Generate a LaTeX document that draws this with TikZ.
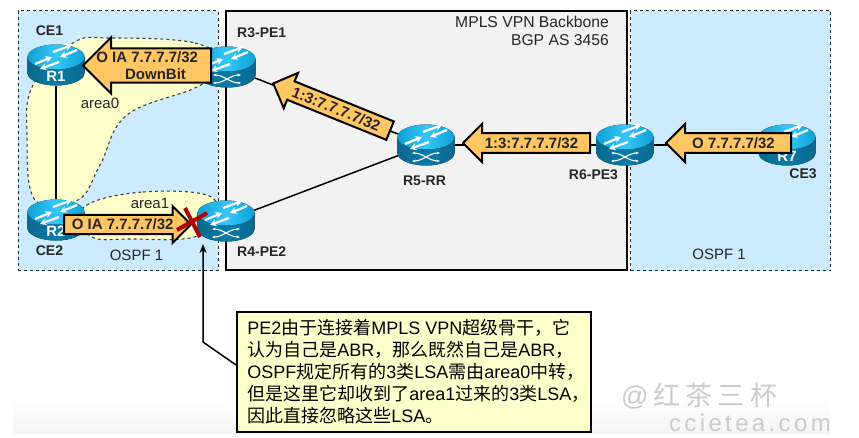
\documentclass[tikz,border=0pt]{standalone}
\usepackage{fontspec}
\setmainfont{Liberation Sans}
\newfontfamily\cjk{Noto Sans CJK SC}
\usetikzlibrary{calc,positioning,arrows.meta,shapes.geometric,shapes.arrows}
\definecolor{zoneblue}{HTML}{CCEBFF}
\definecolor{corefill}{HTML}{F2F2F2}
\definecolor{areafill}{HTML}{FFFFCC}
\definecolor{lsafill}{HTML}{FFC663}
\definecolor{routertop}{HTML}{12BDF8}
\definecolor{routerside}{HTML}{0A7BA6}
\definecolor{markgray}{HTML}{CBCBCB}
\tikzstyle{zone}    = [rectangle, draw=black!85, dashed, line width=1.1pt, fill=zoneblue]
\tikzstyle{core}    = [rectangle, draw=black, line width=2pt, fill=corefill]
\tikzstyle{area}    = [draw=black!75, dashed, line width=1.1pt, fill=areafill]
\tikzstyle{router}  = [ellipse, minimum width=58pt, minimum height=41pt, inner sep=0]
\tikzstyle{tag}     = [font=\fontsize{14}{16}\selectfont\bfseries, text=black!85, inner sep=0]
\tikzstyle{plain}   = [font=\fontsize{15}{18}\selectfont, text=black!85, inner sep=0]
\tikzstyle{lsa}     = [single arrow, shape border rotate=180, anchor=tail, single arrow head extend=6pt, draw=black, line width=2pt, fill=lsafill, inner sep=0, minimum width=38pt, font=\fontsize{15}{18}\selectfont\bfseries, text=black!85, align=center]
\tikzstyle{link}    = [line width=1.5pt, black]
\tikzstyle{arrow}   = [line width=1.5pt,-{Stealth[length=9pt,width=7pt]}]
\tikzstyle{note}    = [rectangle, draw=black, line width=1.6pt, fill=areafill, minimum width=354pt, minimum height=120pt, inner sep=0, align=left, font=\fontsize{18}{22}\selectfont]
\tikzstyle{wmark}   = [text=markgray, inner sep=0]
\tikzset{
	swoosh/.style={white, line width=2.2pt, -{Stealth[length=6.5pt,width=7pt]}},
	routerbase/.pic={
		\fill[left color=routerside!85!black, right color=routerside!85!black, middle color=routerside]
			(-28.5,-8) -- (-28.5,8) arc (180:0:28.5 and 12.5) -- (28.5,-8) -- cycle;
		\fill[left color=routertop!85!black, right color=routertop!85!black, middle color=routertop!85!white]
			(0,-8) ellipse (28.5 and 12.5);
		\draw[swoosh] (-21,-1) -- (-4,-8);
		\draw[swoosh] (21,-15) -- (4,-8);
		\draw[swoosh] (-3,-13) -- (16,-20);
		\draw[swoosh] (3,-3) -- (-16,4);
	},
	peside/.pic={
		\draw[white, line width=1.1pt, {Stealth[length=3.5pt]}-{Stealth[length=3.5pt]}] (-14,8) .. controls (-3,8) and (3,16) .. (14,16);
		\draw[white, line width=1.1pt, {Stealth[length=3.5pt]}-{Stealth[length=3.5pt]}] (-14,16) .. controls (-3,16) and (3,8) .. (14,8);
	},
}
\newcommand{\zh}[1]{{\cjk #1}}
\begin{document}
\begin{tikzpicture}[x=1pt,y=-1pt]
	\useasboundingbox (0,0) rectangle (859,437);
	% faint band along the bottom edge
	\shade[top color=white, bottom color=black!4] (13,398) rectangle (830,433);

	\node (leftzone) [zone, minimum width=200pt, minimum height=260pt, anchor=north west] at (17.5,10) {};
	\node (corezone) [core, minimum width=401pt, minimum height=259pt, anchor=north west] at (225,10) {};
	\node (rightzone) [zone, minimum width=200pt, minimum height=260pt, anchor=north west] at (630,10) {};

	\draw[area] plot[smooth cycle, tension=.65] coordinates {(110,38) (195,43) (222,65) (197,87) (127,115) (100,165) (78,200) (35,200) (27,135) (33,85) (73,43)};
	\draw[area] plot[smooth cycle, tension=.65] coordinates {(84,207) (143,192) (213,198) (200,235) (130,239) (90,236)};

	\node (R1) [router] at (56,65) {};
	\node (R2) [router] at (56,220) {};
	\node (R3) [router] at (227,67) {};
	\node (R4) [router] at (226,221) {};
	\node (R5) [router] at (426,145) {};
	\node (R6) [router] at (625,145) {};
	\node (R7) [router] at (787,145) {};

	\draw [link] (R1) -- (R2);
	\draw [link] (R3) -- (R5);
	\draw [link] (R4) -- (R5);
	\draw [link] (R5) -- (R6);
	\draw [link] (R6) -- (R7);

	\foreach \r in {R1,R2,R3,R4,R5,R6,R7}
		\pic at (\r) {routerbase};
	\foreach \r in {R3,R4,R5,R6}
		\pic at (\r) {peside};
	\node (R1name) [font=\fontsize{15}{15}\selectfont\bfseries, text=white, inner sep=0] at (56,76) {R1};
	\node (R2name) [font=\fontsize{15}{15}\selectfont\bfseries, text=white, inner sep=0] at (56,231) {R2};
	\node (R7name) [font=\fontsize{15}{15}\selectfont\bfseries, text=white, inner sep=0] at (787,156) {R7};

	\node (lsa1) [lsa, minimum height=128pt, minimum width=56pt, single arrow head extend=9.5pt] at (212,65.5) {\makebox[85pt][r]{O IA 7.7.7.7/32}\\[-1pt]\makebox[85pt][c]{DownBit}};
	\node (lsa2) [lsa, minimum height=126pt, rotate=-22] at (391,131) {1:3:7.7.7.7/32};
	\node (lsa3) [lsa, minimum height=127pt] at (591,143) {1:3:7.7.7.7/32};
	\node (lsa4) [lsa, minimum height=125pt] at (792,143) {O 7.7.7.7/32};
	\node (lsa5) [lsa, minimum height=127pt, minimum width=37pt, shape border rotate=0] at (63,224.5) {O IA 7.7.7.7/32};

	\draw[line width=4pt, red!70!black] (177,230) -- (207,213);
	\draw[line width=4pt, red!70!black] (185,208) -- (200,237);

	\node (ce1) [tag] at (49.5,31) {CE1};
	\node (ce2) [tag] at (49.5,251) {CE2};
	\node (ce3) [tag] at (803,174) {CE3};
	\node (pe1) [tag, anchor=west] at (237,33) {R3-PE1};
	\node (pe2) [tag, anchor=west] at (237,252) {R4-PE2};
	\node (rr) [tag] at (424.5,181) {R5-RR};
	\node (pe3) [tag] at (593.5,175) {R6-PE3};

	\node (area0) [plain] at (100,103) {area0};
	\node (area1) [plain] at (150,203) {area1};
	\node (ospfl) [plain] at (136.5,255) {OSPF 1};
	\node (ospfr) [plain] at (719,254) {OSPF 1};
	\node (bgp) [plain, font=\fontsize{15.7}{18}\selectfont, align=right, anchor=north east] at (609,16) {MPLS VPN Backbone\\BGP AS 3456};

	\node (text) [note, anchor=north west] at (236,311) {\hspace*{9pt}\begin{minipage}{342pt}
		PE2\zh{由于连接着}MPLS VPN\zh{超级骨干，它}\\
		\zh{认为自己是}ABR\zh{，那么既然自己是}ABR\zh{，}\\
		OSPF\zh{规定所有的}3\zh{类}LSA\zh{需由}area0\zh{中转，}\\
		\zh{但是这里它却收到了}area1\zh{过来的}3\zh{类}LSA\zh{，}\\
		\zh{因此直接忽略这些}LSA\zh{。}
	\end{minipage}};
	\coordinate (bend) at (203,342);
	\coordinate (noteport) at (236,365);
	\coordinate (pe2foot) at (203,244);
	\draw [arrow] (noteport) -- (bend) -- (pe2foot);

	\node (mark1) [wmark, font=\fontsize{27}{27}\selectfont, anchor=west] at (621,396) {@\,\cjk\addfontfeature{LetterSpace=20}红茶三杯};
	\node (mark2) [wmark, font=\fontsize{24}{24}\selectfont\addfontfeature{LetterSpace=14}, anchor=east] at (831,423) {ccietea.com};
\end{tikzpicture}
\end{document}
